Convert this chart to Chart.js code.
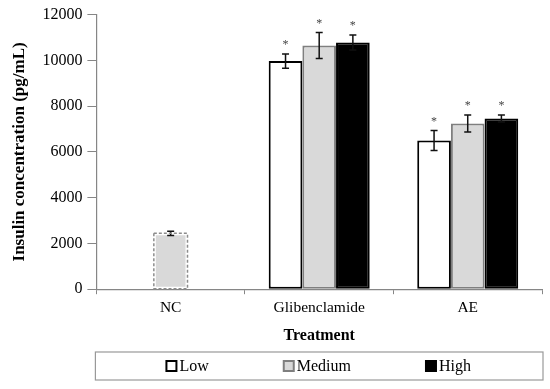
<!DOCTYPE html>
<html>
<head>
<meta charset="utf-8">
<script src="https://cdn.jsdelivr.net/npm/chart.js@4/dist/chart.umd.min.js"></script>
<style>
  html, body { margin: 0; padding: 0; background: #fff; }
  #wrap { position: relative; width: 550px; height: 389px; }
</style>
</head>
<body>
<div id="wrap"><canvas id="insulinChart"></canvas></div>
<script>
// values
const categories = ['NC', 'Glibenclamide', 'AE'];
const seriesNames = ['Low', 'Medium', 'High'];
const lowValues = [null, 9970, 6500];
const mediumValues = [2440, 10650, 7240];
const highValues = [null, 10780, 7460];
const lowErrors = [null, 310, 440];
const mediumErrors = [90, 570, 375];
const highErrors = [null, 330, 150];
const lowStars = [false, true, true];
const mediumStars = [false, true, true];
const highStars = [false, true, true];
const yTicks = [0, 2000, 4000, 6000, 8000, 10000, 12000];

const serif = "'Liberation Serif', 'Times New Roman', serif";
const errors = [lowErrors, mediumErrors, highErrors];
const stars = [lowStars, mediumStars, highStars];

// error bars + significance stars
const errorBarPlugin = {
    id: 'errorBars',
    afterDatasetsDraw(chart) {
        const ctx = chart.ctx;
        const y = chart.scales.y;
        chart.data.datasets.forEach((ds, i) => {
            const meta = chart.getDatasetMeta(i);
            meta.data.forEach((bar, j) => {
                const v = ds.data[j];
                const e = errors[i][j];
                if (v == null || e == null) return;
                const top = y.getPixelForValue(v + e);
                const bottom = y.getPixelForValue(v - e);
                ctx.save();
                ctx.strokeStyle = '#111';
                ctx.lineWidth = 1.5;
                ctx.beginPath();
                ctx.moveTo(bar.x, top); ctx.lineTo(bar.x, bottom);
                ctx.moveTo(bar.x - 3.5, top); ctx.lineTo(bar.x + 3.5, top);
                ctx.moveTo(bar.x - 3.5, bottom); ctx.lineTo(bar.x + 3.5, bottom);
                ctx.stroke();
                if (stars[i][j]) {
                    ctx.fillStyle = '#444';
                    ctx.font = '12px ' + serif;
                    ctx.textAlign = 'center';
                    ctx.textBaseline = 'middle';
                    ctx.fillText('*', bar.x, top - 9);
                }
                ctx.restore();
            });
        });
    }
};

// NC control bar has a dashed outline
const dashedBarPlugin = {
    id: 'dashedBar',
    afterDatasetsDraw(chart) {
        const bar = chart.getDatasetMeta(1).data[0];
        if (!bar) return;
        const p = bar.getProps(['x', 'y', 'base', 'width'], true);
        const ctx = chart.ctx;
        ctx.save();
        ctx.strokeStyle = '#8c8c8c';
        ctx.lineWidth = 1.5;
        ctx.setLineDash([3, 2]);
        ctx.strokeRect(p.x - p.width / 2, p.y, p.width, p.base - p.y);
        ctx.restore();
    }
};

// boxed legend spread across the bottom
const boxLegendPlugin = {
    id: 'boxLegend',
    afterDraw(chart) {
        const ctx = chart.ctx;
        const area = chart.chartArea;
        const left = area.left - 1, right = area.right + 1;
        const top = chart.height - 37, h = 28;
        ctx.save();
        ctx.strokeStyle = '#999';
        ctx.lineWidth = 1.2;
        ctx.strokeRect(left, top, right - left, h);
        ctx.font = '16px ' + serif;
        ctx.textBaseline = 'middle';
        ctx.textAlign = 'left';
        const gap = 74;
        const widths = chart.data.datasets.map(ds => 14 + ctx.measureText(ds.label).width);
        const total = widths.reduce((a, b) => a + b, 0) + gap * (widths.length - 1);
        let x = (left + right) / 2 - total / 2;
        const cy = top + h / 2;
        chart.data.datasets.forEach((ds, i) => {
            const bc = Array.isArray(ds.borderColor) ? ds.borderColor[1] : ds.borderColor;
            ctx.fillStyle = ds.backgroundColor;
            ctx.fillRect(x, cy - 5, 10, 10);
            ctx.strokeStyle = bc;
            ctx.lineWidth = ds.borderWidth;
            ctx.strokeRect(x, cy - 5, 10, 10);
            ctx.fillStyle = '#000';
            ctx.fillText(ds.label, x + 13, cy + 1);
            x += widths[i] + gap;
        });
        ctx.restore();
    }
};

new Chart(document.getElementById('insulinChart'), {
    type: 'bar',
    data: {
        labels: categories,
        datasets: [
            { label: seriesNames[0], data: lowValues, backgroundColor: '#ffffff', borderColor: '#000000', borderWidth: 2, borderSkipped: false },
            { label: seriesNames[1], data: mediumValues, backgroundColor: '#d9d9d9', borderColor: ['rgba(0,0,0,0)', '#7f7f7f', '#7f7f7f'], borderWidth: 2, borderSkipped: false },
            { label: seriesNames[2], data: highValues, backgroundColor: '#000000', borderColor: '#000000', borderWidth: 2, borderSkipped: false }
        ]
    },
    options: {
        responsive: true,
        maintainAspectRatio: false,
        animation: false,
        categoryPercentage: 0.68,
        barPercentage: 1.0,
        layout: { padding: { top: 9, right: 8, left: 9, bottom: 44 } },
        plugins: {
            legend: { display: false },
            tooltip: { enabled: false }
        },
        scales: {
            x: {
                grid: { drawOnChartArea: false, drawTicks: true, tickLength: 5, color: '#868686' },
                border: { color: '#868686', width: 1.2 },
                ticks: { color: '#000', font: { family: serif, size: 15.5 }, padding: 4 },
                title: { display: true, text: 'Treatment', color: '#000', font: { family: serif, size: 16, weight: 'bold' }, padding: { top: 5, bottom: 0 } }
            },
            y: {
                min: 0,
                max: 12000,
                afterBuildTicks(scale) { scale.ticks = yTicks.map(v => ({ value: v })); },
                grid: { drawOnChartArea: false, drawTicks: true, tickLength: 9, color: '#868686' },
                border: { color: '#868686', width: 1.2 },
                ticks: { color: '#000', font: { family: serif, size: 16 }, padding: 5, callback: v => String(v) },
                title: { display: true, text: 'Insulin concentration (pg/mL)', color: '#000', font: { family: serif, size: 17, weight: 'bold' }, padding: { top: 0, bottom: 8 } }
            }
        }
    },
    plugins: [errorBarPlugin, dashedBarPlugin, boxLegendPlugin]
});
</script>
</body>
</html>
